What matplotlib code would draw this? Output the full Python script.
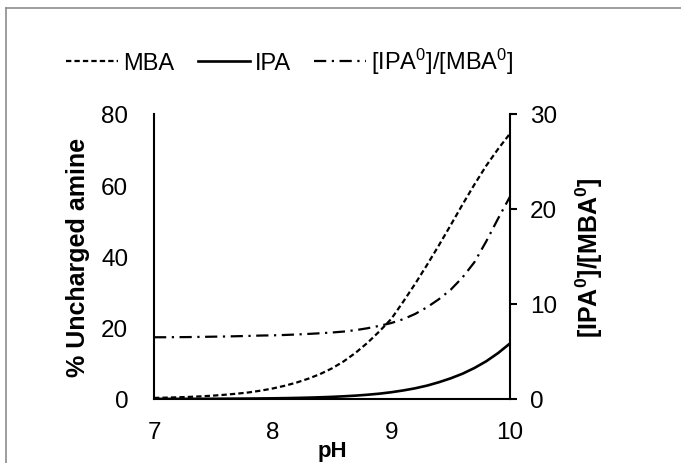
import matplotlib
matplotlib.use("Agg")
import matplotlib.pyplot as plt
from matplotlib.lines import Line2D

plt.rcParams['font.family'] = ['Liberation Sans', 'DejaVu Sans']
plt.rcParams['mathtext.fontset'] = 'custom'
plt.rcParams['mathtext.rm'] = 'Liberation Sans'
plt.rcParams['mathtext.bf'] = 'Liberation Sans:bold'
plt.rcParams['mathtext.default'] = 'regular'

# pH and curves
ph = [7.0, 7.1, 7.2, 7.3, 7.4, 7.5, 7.6, 7.7, 7.8, 7.9,
      8.0, 8.1, 8.2, 8.3, 8.4, 8.5, 8.6, 8.7, 8.8, 8.9,
      9.0, 9.1, 9.2, 9.3, 9.4, 9.5, 9.6, 9.7, 9.8, 9.9, 10.0]
mba = [0.3, 0.38, 0.48, 0.6, 0.75, 0.95, 1.2, 1.5, 1.85, 2.35,
       2.95, 3.7, 4.6, 5.7, 7.0, 8.6, 10.6, 13.0, 15.8, 19.0,
       22.5, 27.3, 32.3, 37.6, 43.1, 48.8, 54.6, 60.2, 65.5, 70.2, 74.5]
ipa = [0.02, 0.03, 0.03, 0.04, 0.05, 0.06, 0.08, 0.1, 0.12, 0.15,
       0.19, 0.24, 0.3, 0.38, 0.48, 0.6, 0.76, 0.95, 1.2, 1.5,
       1.9, 2.4, 3.0, 3.75, 4.7, 5.8, 7.1, 8.7, 10.6, 12.9, 15.6]
ratio = [6.5, 6.5, 6.51, 6.52, 6.54, 6.56, 6.58, 6.61, 6.64, 6.68,
         6.7, 6.74, 6.79, 6.85, 6.92, 7.0, 7.1, 7.25, 7.45, 7.7,
         8.0, 8.4, 8.95, 9.65, 10.5, 11.5, 12.8, 14.4, 16.6, 19.0, 21.3]

left_ticks = [0, 20, 40, 60, 80]
right_ticks = [0, 10, 20, 30]
x_ticks = [7, 8, 9, 10]

fig = plt.figure(figsize=(6.81, 4.64), dpi=100)
ax = fig.add_axes([154 / 681, 1 - 400 / 464, 356 / 681, 285 / 464])
ax2 = ax.twinx()

l1, = ax.plot(ph, mba, color='black', lw=1.6, ls=(0, (2.4, 1.4)), label='MBA')
l2, = ax.plot(ph, ipa, color='black', lw=1.9, ls='-', label='IPA')
l3, = ax2.plot(ph, ratio, color='black', lw=1.6, ls=(0, (5.5, 2.5, 1, 2.5)),
               label='[IPA$^{0}$]/[MBA$^{0}$]')

ax.set_xlim(7, 10)
ax.set_ylim(0, 80)
ax2.set_ylim(0, 30)
ax.set_xticks(x_ticks)
ax.set_yticks(left_ticks)
ax2.set_yticks(right_ticks)

for a in (ax, ax2):
    for s in a.spines.values():
        s.set_linewidth(1.5)
    a.spines['top'].set_visible(False)
ax.spines['right'].set_visible(False)
ax2.spines['left'].set_visible(False)
ax2.spines['bottom'].set_visible(False)

ax.tick_params(axis='y', length=0, pad=18.5, labelsize=17.5)
ax.tick_params(axis='x', length=0, pad=16, labelsize=17.5)
ax2.tick_params(axis='y', length=5, width=1.5, pad=9.5, labelsize=17.5)

ax.set_ylabel('% Uncharged amine', fontsize=18, fontweight='bold', va='center')
ax.yaxis.set_label_coords((78 - 154) / 356, 0.5)
ax2.set_ylabel(r'[IPA$^\mathbf{0}$]/[MBA$^\mathbf{0}$]', fontsize=18,
               fontweight='bold', va='center')
ax2.yaxis.set_label_coords((589 - 154) / 356, 0.5)
ax.set_xlabel('pH', fontsize=16, fontweight='bold', va='center')
ax.xaxis.set_label_coords(0.5, (400 - 452) / 285)

fig.legend(handles=[l1, l2, l3], loc='center', bbox_to_anchor=(290 / 681, 1 - 62 / 464),
           ncol=3, frameon=False, fontsize=17, handlelength=2.2,
           handletextpad=0.2, columnspacing=1.0)

# chart area border (only top and left edges fall inside the image)
fig.add_artist(Line2D([6 / 681, 1], [1 - 9 / 464, 1 - 9 / 464],
                      transform=fig.transFigure, color='#8c8c8c', lw=1.2))
fig.add_artist(Line2D([6 / 681, 6 / 681], [0, 1 - 9 / 464],
                      transform=fig.transFigure, color='#8c8c8c', lw=1.2))

fig.savefig('out.png', dpi=100)
